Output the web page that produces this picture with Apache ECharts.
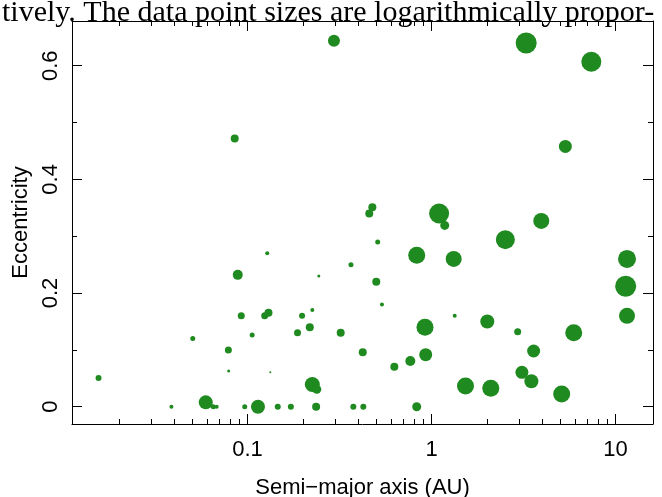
<!DOCTYPE html>
<html>
<head>
<meta charset="utf-8">
<script src="https://cdn.jsdelivr.net/npm/echarts@6/dist/echarts.min.js"></script>
<style>
  html, body { margin: 0; padding: 0; background: #fff; }
  #chart { width: 662px; height: 497px; }
</style>
</head>
<body>
<div id="chart"></div>
<script>
// planets: semi-major axis (AU), eccentricity, marker diameter (px, log of mass)
const semiMajorAxis = [
  0.295, 3.27, 7.39, 0.0852, 5.34, 0.477, 0.459, 1.10, 1.18, 3.95,
  2.52, 0.510, 0.128, 0.831, 1.32, 11.55, 0.365, 0.244, 0.0885, 0.501,
  11.36, 0.538, 0.225, 0.0925, 0.124, 0.130, 0.198, 1.337, 11.55, 2.01,
  0.218, 0.922, 0.187, 0.321, 2.94, 5.93, 0.106, 0.0504, 0.0787, 0.423,
  3.59, 0.930, 0.767, 0.628, 0.079, 0.133, 3.10, 0.0155, 3.49, 0.225,
  1.53, 0.238, 2.10, 5.10, 0.0593, 0.0652, 0.068, 0.0386, 0.0966, 0.114,
  0.146, 0.172, 0.236, 0.376, 0.426, 0.831
];
const eccentricity = [
  0.644, 0.640, 0.607, 0.472, 0.458, 0.351, 0.340, 0.340, 0.319, 0.327,
  0.294, 0.290, 0.270, 0.2665, 0.260, 0.260, 0.250, 0.230, 0.232, 0.220,
  0.212, 0.180, 0.170, 0.160, 0.160, 0.1655, 0.160, 0.160, 0.160, 0.150,
  0.140, 0.140, 0.130, 0.130, 0.132, 0.130, 0.126, 0.120, 0.100, 0.096,
  0.098, 0.0915, 0.0805, 0.0704, 0.063, 0.0605, 0.0606, 0.0505, 0.0447, 0.039,
  0.0364, 0.0306, 0.0324, 0.0224, 0.0077, 0, 0, 0, 0, 0,
  0, 0, 0, 0, 0, 0
];
const pointSize = [
  12, 21, 20, 8, 13, 8, 8, 20, 9, 16,
  19, 5, 4, 17, 16, 18, 5, 3, 10, 8,
  21, 4, 4, 7, 7, 8, 6, 4, 16, 14,
  8, 17, 7, 8, 7, 17, 5, 5, 7, 8,
  13, 13, 10, 8, 3, 2, 13, 6, 14, 15,
  17, 9, 17, 17, 14, 5, 4, 4, 5, 14,
  6, 6, 8, 6, 6, 9
];

const xTickLabels = ['0.1', '1', '10'];
const yTickLabels = ['0', '0.2', '0.4', '0.6'];
const xMinorTicks = [
  0.02, 0.03, 0.04, 0.05, 0.06, 0.07, 0.08, 0.09,
  0.2, 0.3, 0.4, 0.5, 0.6, 0.7, 0.8, 0.9,
  2, 3, 4, 5, 6, 7, 8, 9
];
const topText = 'tively. The data point sizes are logarithmically propor-';

const xMin = 0.01112, xMax = 15.99;
const yMin = -0.0304, yMax = 0.6787;

const green = '#1f8a1f';
const labelFont = { fontFamily: 'Liberation Sans', fontSize: 22, color: '#000' };

function pickLabel(list, v) {
  const hit = list.find(s => Math.abs(parseFloat(s) - v) < 1e-6 * Math.max(1, Math.abs(v)));
  return hit === undefined ? '' : hit;
}

const points = semiMajorAxis.map((a, i) => [a, eccentricity[i], pointSize[i]]);

const chart = echarts.init(document.getElementById('chart'), null, { renderer: 'canvas' });

const axisLine = { show: true, onZero: false, lineStyle: { color: '#000', width: 1 } };

chart.setOption({
  animation: false,
  backgroundColor: '#fff',
  grid: { left: 72, right: 9, top: 21, bottom: 73, containLabel: false, outerBoundsMode: 'none' },
  xAxis: [
    {
      type: 'log', logBase: 10, min: xMin, max: xMax,
      position: 'bottom',
      axisLine: axisLine,
      axisTick: { show: true, inside: true, length: 10, lineStyle: { color: '#000' } },
      axisLabel: Object.assign({
        margin: 15, showMinLabel: false, showMaxLabel: false,
        formatter: v => pickLabel(xTickLabels, v)
      }, labelFont),
      splitLine: { show: false },
      name: 'Semi\u2212major axis (AU)',
      nameLocation: 'middle', nameGap: 53,
      nameTextStyle: labelFont
    },
    {
      type: 'log', logBase: 10, min: xMin, max: xMax,
      position: 'top',
      axisLine: axisLine,
      axisTick: { show: true, inside: true, length: 10, lineStyle: { color: '#000' } },
      axisLabel: { show: false },
      splitLine: { show: false }
    }
  ],
  yAxis: [
    {
      type: 'value', min: yMin, max: yMax, splitNumber: 3,
      minInterval: 0.2, maxInterval: 0.2,
      position: 'left',
      axisLine: axisLine,
      axisTick: { show: true, inside: true, length: 10, lineStyle: { color: '#000' } },
      minorTick: { show: true, splitNumber: 2, length: 5, lineStyle: { color: '#000' } },
      axisLabel: Object.assign({
        rotate: 90, margin: 10, showMinLabel: false, showMaxLabel: false,
        formatter: v => pickLabel(yTickLabels, v)
      }, labelFont),
      splitLine: { show: false },
      minorSplitLine: { show: false },
      name: 'Eccentricity',
      nameLocation: 'middle', nameGap: 39,
      nameTextStyle: labelFont
    },
    {
      type: 'value', min: yMin, max: yMax, splitNumber: 3,
      minInterval: 0.2, maxInterval: 0.2,
      position: 'right',
      axisLine: axisLine,
      axisTick: { show: true, inside: true, length: 10, lineStyle: { color: '#000' } },
      minorTick: { show: true, splitNumber: 2, length: 5, lineStyle: { color: '#000' } },
      axisLabel: { show: false },
      splitLine: { show: false }
    }
  ],
  series: [
    {
      type: 'custom',
      silent: true,
      xAxisIndex: 0, yAxisIndex: 0,
      clip: false,
      data: xMinorTicks.map(v => [v, 0]),
      renderItem: (params, api) => {
        const x = Math.round(api.coord([api.value(0), 0])[0]) + 0.5;
        const cs = params.coordSys;
        const bottom = cs.y + cs.height;
        const st = { stroke: '#000', lineWidth: 1 };
        return {
          type: 'group',
          children: [
            { type: 'line', shape: { x1: x, y1: bottom, x2: x, y2: bottom - 5 }, style: st },
            { type: 'line', shape: { x1: x, y1: cs.y, x2: x, y2: cs.y + 5 }, style: st }
          ]
        };
      }
    },
    {
      type: 'scatter',
      xAxisIndex: 0, yAxisIndex: 0,
      data: points,
      symbol: 'circle',
      symbolSize: v => v[2],
      itemStyle: { color: green, opacity: 1 },
      emphasis: { disabled: true }
    }
  ],
  graphic: [
    {
      type: 'text',
      x: 2, y: 13,
      z: 100,
      style: {
        text: topText,
        font: '30px "Liberation Serif"',
        fill: '#000',
        verticalAlign: 'middle',
        align: 'left'
      }
    }
  ]
});
</script>
</body>
</html>
